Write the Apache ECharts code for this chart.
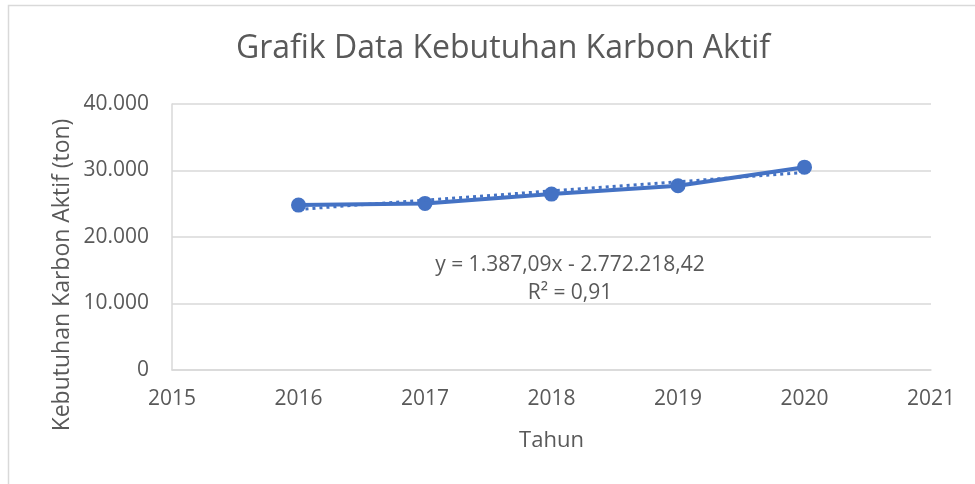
<!DOCTYPE html>
<html>
<head>
<meta charset="utf-8">
<script src="https://cdn.jsdelivr.net/npm/echarts@6/dist/echarts.min.js"></script>
<style>html,body{margin:0;padding:0;background:#fff;}#c{width:975px;height:484px;}</style>
</head>
<body>
<div id="c"></div>
<script>
const years = [2016, 2017, 2018, 2019, 2020];
const kebutuhan = [24800, 25050, 26450, 27700, 30500];
const trendYears = [2016, 2020];
const trendValues = [24150, 29700];
const xTicks = [2015, 2016, 2017, 2018, 2019, 2020, 2021];
const yTicks = [0, 10000, 20000, 30000, 40000];
const titleText = 'Grafik Data Kebutuhan Karbon Aktif';
const xName = 'Tahun';
const yName = 'Kebutuhan Karbon Aktif (ton)';
const eqLine1 = 'y = 1.387,09x - 2.772.218,42';
const eqLine2 = 'R² = 0,91';

const FONT = '"Open Sans", "Noto Sans", sans-serif';
const TXT = '#595959';
const BLUE = '#4472C4';

function fmtThousands(v) {
  return String(Math.round(v)).replace(/\B(?=(\d{3})+(?!\d))/g, '.');
}

const chart = echarts.init(document.getElementById('c'), null, {renderer: 'canvas'});
chart.setOption({
  backgroundColor: '#fff',
  animation: false,
  title: {
    text: titleText,
    left: 498, top: 28, textAlign: 'center',
    textStyle: {fontFamily: FONT, fontSize: 32, fontWeight: 'normal', color: TXT}
  },
  grid: {left: 172, right: 44, top: 104, bottom: 114, containLabel: false},
  xAxis: {
    type: 'value', min: xTicks[0], max: xTicks[xTicks.length - 1], interval: 1,
    name: xName, nameLocation: 'middle', nameGap: 60,
    nameTextStyle: {fontFamily: FONT, fontSize: 22, color: TXT},
    axisLine: {show: true, lineStyle: {color: '#d9d9d9', width: 1.5}},
    axisTick: {show: false},
    splitLine: {show: false},
    axisLabel: {fontFamily: FONT, fontSize: 21, color: TXT, margin: 19, formatter: v => String(v)}
  },
  yAxis: {
    type: 'value', min: yTicks[0], max: yTicks[yTicks.length - 1], interval: 10000,
    axisLine: {show: true, lineStyle: {color: '#d9d9d9', width: 1.5}},
    axisTick: {show: false},
    splitLine: {show: true, lineStyle: {color: '#d9d9d9', width: 1.5}},
    axisLabel: {fontFamily: FONT, fontSize: 21, color: TXT, margin: 23, formatter: v => fmtThousands(v)}
  },
  series: [
    {
      type: 'line', name: 'Kebutuhan',
      data: years.map((y, i) => [y, kebutuhan[i]]),
      smooth: false,
      symbol: 'circle', symbolSize: 15,
      lineStyle: {color: BLUE, width: 4},
      itemStyle: {color: BLUE},
      z: 2
    },
    {
      type: 'line', name: 'Trend',
      data: trendYears.map((y, i) => [y, trendValues[i]]),
      symbol: 'none',
      lineStyle: {color: BLUE, width: 3, type: [3, 4]},
      z: 3
    }
  ],
  graphic: [
    {type: 'rect', shape: {x: 8.5, y: 5.5, width: 1000, height: 600}, style: {fill: 'none', stroke: '#d9d9d9', lineWidth: 1.5}, silent: true},
    {type: 'text', x: 62, y: 275, rotation: Math.PI / 2, style: {text: yName, font: '23px ' + FONT, fill: TXT, textAlign: 'center', textVerticalAlign: 'middle'}},
    {type: 'text', x: 570, y: 265, style: {text: eqLine1, font: '21px ' + FONT, fill: TXT, textAlign: 'center', textVerticalAlign: 'middle'}},
    {type: 'text', x: 570, y: 293, style: {text: eqLine2, font: '21px ' + FONT, fill: TXT, textAlign: 'center', textVerticalAlign: 'middle'}}
  ]
});
</script>
</body>
</html>
